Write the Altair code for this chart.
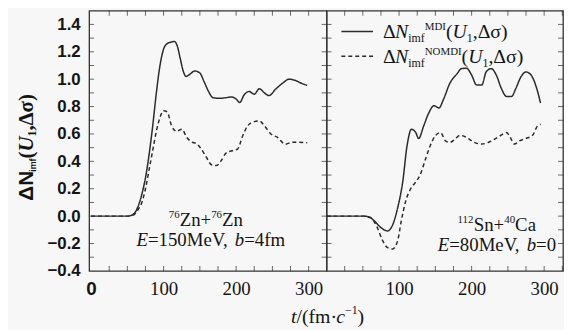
import altair as alt
import pandas as pd

# ---------------- data ----------------
MDI = "MDI"
NOMDI = "NOMDI"

# left panel: 76Zn+76Zn, E=150MeV, b=4fm
zn_mdi_t = [0, 50, 57, 64, 70, 75, 80, 85, 90, 95, 100, 105, 110, 115, 119, 123, 127, 131, 136, 143,
            150, 156, 162, 168, 177, 186, 194, 200, 205, 211, 218, 225, 232, 239, 245, 255, 264, 273,
            282, 290, 298]
zn_mdi_v = [0, 0, 0.01, 0.06, 0.16, 0.28, 0.45, 0.66, 0.90, 1.10, 1.22, 1.26, 1.27, 1.275, 1.24, 1.15,
            1.06, 1.02, 1.035, 1.06, 1.045, 0.98, 0.91, 0.865, 0.86, 0.865, 0.87, 0.855, 0.83, 0.885,
            0.91, 0.89, 0.93, 0.90, 0.88, 0.93, 0.97, 1.00, 0.99, 0.97, 0.955]
zn_nomdi_t = [0, 52, 59, 65, 70, 75, 80, 85, 90, 95, 100, 105, 111, 118, 125, 132, 139, 145, 152, 159,
              166, 173, 180, 186, 196, 202, 209, 216, 225, 232, 239, 248, 257, 268, 277, 286, 298]
zn_nomdi_v = [0, 0, 0.01, 0.05, 0.10, 0.20, 0.34, 0.48, 0.62, 0.72, 0.77, 0.76, 0.66, 0.62, 0.635,
              0.575, 0.54, 0.53, 0.49, 0.43, 0.375, 0.37, 0.41, 0.46, 0.48, 0.49, 0.585, 0.66, 0.69,
              0.695, 0.66, 0.60, 0.575, 0.525, 0.54, 0.54, 0.535]

# right panel: 112Sn+40Ca, E=80MeV, b=0
sn_mdi_t = [0, 52, 60, 66, 75, 84, 91, 98, 105, 111, 117, 123, 127, 134, 141, 148, 155, 161, 170, 180,
            186, 193, 200, 207, 214, 220, 227, 234, 241, 248, 255, 261, 268, 275, 282, 289, 295]
sn_mdi_v = [0, 0, -0.01, -0.036, -0.084, -0.108, -0.065, 0.06, 0.25, 0.515, 0.634, 0.61, 0.567, 0.66,
            0.754, 0.806, 0.79, 0.85, 0.97, 1.04, 1.077, 1.08, 1.03, 0.957, 0.957, 1.053, 1.077, 1.03,
            0.933, 0.874, 0.874, 0.933, 1.017, 1.053, 1.03, 0.945, 0.826]
sn_nomdi_t = [0, 52, 61, 70, 77, 84, 91, 98, 103, 109, 116, 123, 129, 136, 143, 150, 157, 164, 170, 177,
              184, 193, 202, 214, 225, 236, 248, 252, 259, 266, 275, 284, 291, 295]
sn_nomdi_v = [0, 0, -0.012, -0.084, -0.175, -0.23, -0.24, -0.18, -0.036, 0.108, 0.20, 0.25, 0.30, 0.41,
              0.515, 0.587, 0.61, 0.55, 0.538, 0.562, 0.59, 0.575, 0.543, 0.526, 0.543, 0.575, 0.61,
              0.587, 0.526, 0.55, 0.567, 0.59, 0.66, 0.67]

y_label_values = [-0.4, -0.2, 0.0, 0.2, 0.4, 0.6, 0.8, 1.0, 1.2, 1.4]
x_label_left = [0, 100, 200, 300]
x_label_right = [100, 200, 300]
x_tick_values = [25, 50, 75, 100, 125, 150, 175, 200, 225, 250, 275, 300, 325]
y_tick_values = [-0.3, -0.2, -0.1, 0.0, 0.1, 0.2, 0.3, 0.4, 0.5, 0.6, 0.7, 0.8, 0.9, 1.0, 1.1,
                 1.2, 1.3, 1.4]

# ---------------- style ----------------
INK = "#2b2b2b"
TXT = "#141414"
SERIF = "Liberation Serif"
SANS = "Liberation Sans"
W_LEFT, W_RIGHT, H = 240, 239, 263
Y_DOM = [-0.4, 1.5]
TICK = 5

# approximate advance widths (em) for laying out mixed-style rich text
W_ROMAN = {"E": .611, "=": .564, "M": .889, "e": .444, "V": .722, ",": .25, " ": .25, "b": .5,
           "f": .333, "m": .778, "Z": .611, "n": .5, "+": .564, "S": .556, "C": .667, "a": .444,
           "(": .333, ")": .333, "/": .278, "·": .25, "t": .278, "c": .444, "−": .564, "Δ": .612,
           "σ": .549, "i": .278, "D": .722, "I": .333, "N": .722, "O": .722, "U": .722}
W_ITALIC = {"E": .611, "b": .5, "N": .667, "U": .722, "t": .278, "c": .444}
W_SANSB = {"Δ": .667, "N": .722, "i": .278, "m": .889, "f": .333}


def text_width(s, size, style, font):
    tab = W_SANSB if font == SANS else (W_ITALIC if style == "italic" else W_ROMAN)
    return sum(tab.get(ch, W_ROMAN.get(ch, .5)) for ch in s) * size


def rich(pieces, x, y, anchor="left", angle=0):
    """pieces: (text, size, style, weight, font, shift). shift>0 moves the piece down (subscript)."""
    widths = [text_width(p[0], p[1], p[2], p[4]) for p in pieces]
    total = sum(widths)
    pos = {"center": -total / 2, "right": -total}.get(anchor, 0)
    layers = []
    for (txt, size, style, weight, font, shift), w in zip(pieces, widths):
        if angle == 270:
            px, py = x + shift, y - pos
        else:
            px, py = x + pos, y + shift
        layers.append(
            alt.Chart(pd.DataFrame({"label": [txt]})).mark_text(
                font=font, fontSize=size, fontStyle=style, fontWeight=weight, color=TXT,
                align="left", baseline="alphabetic", angle=angle,
            ).encode(x=alt.value(px), y=alt.value(py), text="label:N")
        )
        pos += w
    return layers


def R(t, s=19, sh=0):
    return (t, s, "normal", "normal", SERIF, sh)


def I(t, s=19, sh=0):
    return (t, s, "italic", "normal", SERIF, sh)


def frame(ts_a, vs_a, ts_b, vs_b):
    a = pd.DataFrame({"t": ts_a, "v": vs_a, "series": MDI})
    b = pd.DataFrame({"t": ts_b, "v": vs_b, "series": NOMDI})
    return pd.concat([a, b], ignore_index=True)


DASH = alt.Scale(domain=[MDI, NOMDI], range=[[1, 0], [4, 3]])


def panel(df, xdom, width, left, extra):
    xs = alt.Scale(domain=xdom, nice=False, zero=False)
    ys = alt.Scale(domain=Y_DOM, nice=False, zero=False)

    if left:
        x_axis = alt.Axis(values=x_label_left, ticks=False, domain=False, grid=False, title=None,
                          labelFontSize=19, labelPadding=9, labelColor=TXT,
                          labelFont=alt.condition("datum.value == 0", alt.value(SANS), alt.value(SERIF)),
                          labelFontWeight=alt.condition("datum.value == 0", alt.value("bold"), alt.value("normal")))
        y_axis = alt.Axis(values=y_label_values, format=".1f", ticks=False, domain=False, grid=False,
                          labelFont=SANS, labelFontWeight="bold", labelFontSize=17, labelColor=TXT,
                          labelPadding=9, title=None)
    else:
        x_axis = alt.Axis(values=x_label_right, ticks=False, domain=False, grid=False, title=None,
                          labelFontSize=19, labelPadding=9, labelColor=TXT, labelFont=SERIF)
        y_axis = None

    lines = alt.Chart(df).mark_line(color=INK, strokeWidth=1.5, interpolate="monotone").encode(
        x=alt.X("t:Q", scale=xs, axis=x_axis),
        y=alt.Y("v:Q", scale=ys, axis=y_axis),
        strokeDash=alt.StrokeDash("series:N", scale=DASH, legend=None),
    )
    xt = pd.DataFrame({"t": [v for v in x_tick_values if xdom[0] < v < xdom[1]]})
    yt = pd.DataFrame({"v": y_tick_values})
    tick_layers = []
    for ypos in (H - TICK / 2, TICK / 2):
        tick_layers.append(
            alt.Chart(xt).mark_tick(color=INK, thickness=1, size=TICK, orient="vertical").encode(
                x=alt.X("t:Q", scale=xs, axis=x_axis), y=alt.value(ypos))
        )
    for xpos in (TICK / 2, width - TICK / 2):
        tick_layers.append(
            alt.Chart(yt).mark_tick(color=INK, thickness=1, size=TICK, orient="horizontal").encode(
                y=alt.Y("v:Q", scale=ys, axis=y_axis), x=alt.value(xpos))
        )
    return alt.layer(lines, *tick_layers, *extra).properties(width=width, height=H)


# ---- left panel decorations (pixel positions inside the panel) ----
left_extra = []
left_extra += rich([R("76", 11, -8), R("Zn+"), R("76", 11, -8), R("Zn")], 118, 218, "center")
left_extra += rich([I("E"), R("=150MeV, "), I("b"), R("=4fm")], 123, 238, "center")
# y-axis title, rotated
left_extra += rich([("ΔN", 21, "normal", "bold", SANS, 0), ("imf", 9, "normal", "bold", SANS, 3),
                    ("(", 21, "normal", "bold", SERIF, 0), ("U", 21, "italic", "bold", SERIF, 0),
                    ("1", 12, "normal", "bold", SERIF, 3), (",Δσ)", 21, "normal", "bold", SERIF, 0)],
                   -57, 192, "left", angle=270)

# ---- right panel decorations ----
right_extra = []
right_extra += rich([R("112", 11, -8), R("Sn+"), R("40", 11, -8), R("Ca")], 172, 223, "center")
right_extra += rich([I("E"), R("=80MeV, "), I("b"), R("=0")], 232, 243, "right")
# x-axis title, centred under the divider between the two panels
right_extra += rich([I("t", 20), R("/(fm", 20), R("·", 20), R(" ", 3), I("c", 20), R("−1", 12, -9),
                     R(")", 20)], 1, 316, "center")
# legend
for row, (name, sup) in enumerate([(MDI, "MDI"), (NOMDI, "NOMDI")]):
    ly = 21 + 25 * row
    right_extra.append(
        alt.Chart(pd.DataFrame({"series": [name]})).mark_rule(color=INK, strokeWidth=1.4).encode(
            x=alt.value(15), x2=alt.value(47), y=alt.value(ly),
            strokeDash=alt.StrokeDash("series:N", scale=DASH, legend=None))
    )
    right_extra += rich([R("Δ", 20), I("N", 20), R("imf", 12, 4), R(sup, 11, -8), R("(", 20),
                         I("U", 20), R("1", 12, 4), R(",Δσ)", 20)], 57, ly + 7, "left")

left_df = frame(zn_mdi_t, zn_mdi_v, zn_nomdi_t, zn_nomdi_v)
right_df = frame(sn_mdi_t, sn_mdi_v, sn_nomdi_t, sn_nomdi_v)

left = panel(left_df, [-2.7, 324.7], W_LEFT, True, left_extra)
right = panel(right_df, [0, 326], W_RIGHT, False, right_extra)

chart = alt.hconcat(left, right, spacing=0, bounds="flush").resolve_scale(
    strokeDash="independent").configure_view(
    stroke="#333", strokeWidth=1.3
).properties(
    padding={"left": 7, "top": 0, "right": 0, "bottom": 0},
    background="#f7f7f7",
)

chart.save("out.html", embed_options={"renderer": "svg", "actions": False})
